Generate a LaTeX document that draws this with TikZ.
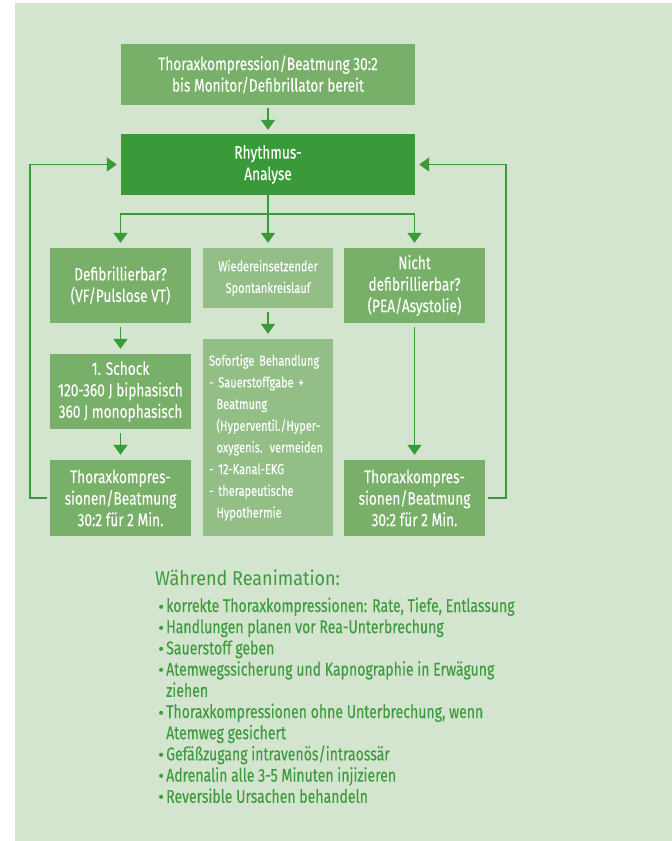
\documentclass[tikz,border=0pt]{standalone}
\usepackage{fontspec}
\setmainfont{Fira Sans}[FakeStretch=0.76, FakeBold=0.12]
\newfontfamily\headfamily{Fira Sans}[FakeStretch=0.9]
\newfontfamily\dotfamily{DejaVu Sans}
\usetikzlibrary{arrows.meta}

\definecolor{panelbg}{HTML}{D3E4CF}
\definecolor{boxlight}{HTML}{78AF69}
\definecolor{boxdark}{HTML}{3A9A3A}
\definecolor{boxpale}{HTML}{93BF87}
\definecolor{linegreen}{HTML}{3A9A3A}
\definecolor{textgreen}{HTML}{3E9B3E}

\newcommand{\boxfont}{\fontsize{18}{21.5}\selectfont}
\newcommand{\smallfont}{\fontsize{14.5}{21.7}\selectfont}
\newcommand{\listfont}{\fontsize{18.5}{21.2}\selectfont}
\newcommand{\titlefont}{\headfamily\fontsize{20}{24}\selectfont}
\newcommand{\itemdot}{\makebox[9pt][l]{\dotfamily\fontsize{14}{14}\selectfont •}}

\tikzset{
  flowbox/.style={fill=boxlight, text=white, inner sep=0pt, align=center,
    font=\boxfont, minimum width=141pt, minimum height=75pt},
  widebox/.style={flowbox, minimum width=294pt, minimum height=61pt},
  palebox/.style={flowbox, fill=boxpale, font=\smallfont, minimum width=130pt},
  flowarrow/.style={draw=linegreen, line width=1.6pt,
    -{Triangle[width=14pt,length=10pt]}, shorten >=5pt, shorten <=4pt},
  flowline/.style={draw=linegreen, line width=1.6pt},
  listline/.style={anchor=base west, inner sep=0pt, text=textgreen, font=\listfont},
}

\begin{document}
\begin{tikzpicture}[x=1pt,y=-1pt]
\useasboundingbox (0,0) rectangle (672,841);
\fill[panelbg] (15,3) rectangle (672,841);

% main flow boxes
\node[widebox] (start) at (268,74.5)
  {Thoraxkompression/Beatmung 30:2\\bis Monitor/Defibrillator bereit};
\node[widebox, fill=boxdark] (rhythm) at (268,164.5) {Rhythmus-\\Analyse};

\node[flowbox] (shockable) at (120.5,285.5) {Defibrillierbar?\\(VF/Pulslose VT)};
\node[palebox, minimum height=60pt] (rosc) at (268,278)
  {Wiedereinsetzender\\Spontankreislauf};
\node[flowbox] (nonshockable) at (414.5,285.5)
  {Nicht\\defibrillierbar?\\(PEA/Asystolie)};

\node[flowbox] (shock) at (120.5,391.5)
  {1. Schock\\120-360 J biphasisch\\360 J monophasisch};
\node[flowbox, minimum height=76pt] (cprleft) at (120.5,498)
  {Thoraxkompres-\\sionen/Beatmung\\30:2 für 2 Min.};
\node[flowbox, minimum height=76pt] (cprright) at (414.5,498)
  {Thoraxkompres-\\sionen/Beatmung\\30:2 für 2 Min.};

\node[palebox, minimum height=197pt, text width=118pt, align=left,
      inner xsep=6pt] (care) at (268,437.5)
  {Sofortige Behandlung\\
   - Sauerstoffgabe +\\
   \hspace*{7.5pt}Beatmung\\
   \hspace*{7.5pt}(Hyperventil./Hyper-\\
   \hspace*{7.5pt}oxygenis. vermeiden\\
   - 12-Kanal-EKG\\
   - therapeutische\\
   \hspace*{7.5pt}Hypothermie};

% connectors
\coordinate (split) at (268,214);
\coordinate (loopleft) at (30,164.5);
\coordinate (loopright) at (506,164.5);

\draw[flowarrow, shorten <=3pt, shorten >=4pt] (start) -- (rhythm);
\draw[flowline] (rhythm.south) -- (split);
\draw[flowarrow, shorten <=0pt] (split) -| (shockable.north);
\draw[flowarrow, shorten <=0pt] (split) -| (nonshockable.north);
\draw[flowarrow, shorten <=0pt] (rhythm.south) -- (rosc.north);
\draw[flowarrow] (shockable) -- (shock);
\draw[flowarrow] (shock) -- (cprleft);
\draw[flowarrow] (rosc) -- (care);
\draw[flowarrow] (nonshockable) -- (cprright);
\draw[flowarrow, shorten <=3pt, shorten >=4pt] (cprleft.west) -| (loopleft) -- (rhythm.west);
\draw[flowarrow, shorten <=3pt, shorten >=4pt] (cprright.east) -| (loopright) -- (rhythm.east);

% notes during resuscitation
\node[anchor=base west, inner sep=0pt, text=textgreen, font=\titlefont] (notes) at (155,585)
  {Während Reanimation:};
\node[listline] (n1) at (157,612.0) {\itemdot korrekte Thoraxkompressionen: Rate, Tiefe, Entlassung};
\node[listline] (n2) at (157,633.2) {\itemdot Handlungen planen vor Rea-Unterbrechung};
\node[listline] (n3) at (157,654.4) {\itemdot Sauerstoff geben};
\node[listline] (n4) at (157,675.6) {\itemdot Atemwegssicherung und Kapnographie in Erwägung};
\node[listline] (n4b) at (166,696.8) {ziehen};
\node[listline] (n5) at (157,718.0) {\itemdot Thoraxkompressionen ohne Unterbrechung, wenn};
\node[listline] (n5b) at (166,739.2) {Atemweg gesichert};
\node[listline] (n6) at (157,760.4) {\itemdot Gefäßzugang intravenös/intraossär};
\node[listline] (n7) at (157,781.6) {\itemdot Adrenalin alle 3-5 Minuten injizieren};
\node[listline] (n8) at (157,802.8) {\itemdot Reversible Ursachen behandeln};
\end{tikzpicture}
\end{document}
